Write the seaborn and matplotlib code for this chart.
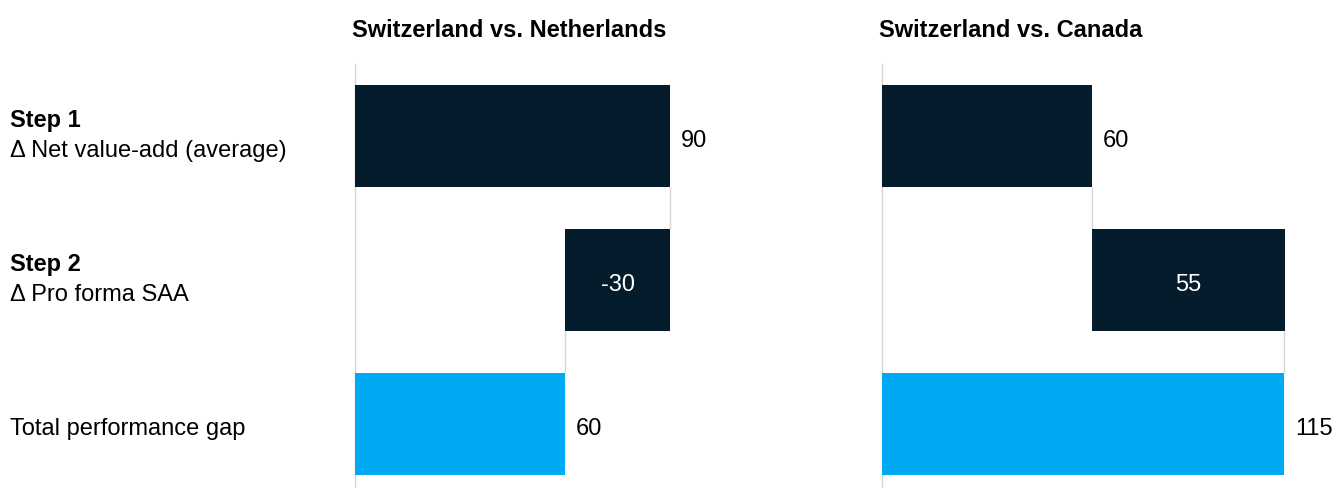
import matplotlib
matplotlib.use("Agg")
import matplotlib.pyplot as plt
import matplotlib.transforms as mtransforms
import pandas as pd
import seaborn as sns

# ---- data -------------------------------------------------------------
steps = ["Step 1", "Step 2", "Total"]
row_headers = ["Step 1", "Step 2", ""]
row_descriptions = ["Δ Net value-add (average)", "Δ Pro forma SAA", "Total performance gap"]
panel_titles = ["Switzerland vs. Netherlands", "Switzerland vs. Canada"]
netherlands_values = [90, -30, 60]
canada_values = [60, 55, 115]
label_inside = [False, True, False]

# ---- style ------------------------------------------------------------
NAVY = "#051c2c"
CYAN = "#00a9f4"
GRID = "#d6d6d6"
palette = {"Step 1": NAVY, "Step 2": NAVY, "Total": CYAN}

sns.set_theme(style="white")
plt.rcParams["font.family"] = ["Liberation Sans", "DejaVu Sans"]
FS = 17

W, H = 1336, 488
fig = plt.figure(figsize=(W / 100, H / 100), dpi=100)

PX_PER_UNIT = 3.5
XMAX = 125
BAR_H = 0.708
ax_w = XMAX * PX_PER_UNIT
top_px = 64

axes = []
for left_px, values, title in zip([355, 882], [netherlands_values, canada_values], panel_titles):
    ax = fig.add_axes([left_px / W, 0, ax_w / W, (H - top_px) / H])
    df = pd.DataFrame({"step": steps, "value": values})
    sns.barplot(data=df, x="value", y="step", hue="step", palette=palette,
                orient="h", width=BAR_H, legend=False, saturation=1,
                linewidth=0, ax=ax)

    # waterfall: each step starts where the previous one ended, total from zero
    starts = [0, values[0], 0]
    for patch, s in zip(ax.patches, starts):
        patch.set_x(s)
        patch.set_zorder(2)

    ax.set_xlim(0, XMAX)
    ax.set_ylim(2.444, -0.5)
    ax.set(xlabel="", ylabel="", xticks=[], yticks=[])
    for sp in ax.spines.values():
        sp.set_visible(False)

    ax.axvline(0, color=GRID, lw=1.0, zorder=1, clip_on=False)

    # connectors between consecutive bars
    ends = [s + v for s, v in zip(starts, values)]
    ax.vlines(ends[0], 0 + BAR_H / 2, 1 - BAR_H / 2, color=GRID, lw=1.0, zorder=1)
    ax.vlines(ends[1], 1 + BAR_H / 2, 2 - BAR_H / 2, color=GRID, lw=1.0, zorder=1)

    # value labels
    for i, (s, v, inside) in enumerate(zip(starts, values, label_inside)):
        if inside:
            ax.annotate(f"{v}", xy=(s + v / 2, i), xytext=(0, -7.9),
                        textcoords="offset points", ha="center", va="baseline",
                        color="white", fontsize=FS, zorder=3)
        else:
            ax.annotate(f"{v}", xy=(max(s, s + v), i), xytext=(7.5, -7.9),
                        textcoords="offset points", ha="left", va="baseline",
                        color="black", fontsize=FS, annotation_clip=False)

    fig.text((left_px - 3) / W, 1 - 36.7 / H, title, ha="left", va="baseline",
             fontsize=FS, fontweight="bold", color="black")
    axes.append(ax)

# row labels on the left
trans = mtransforms.blended_transform_factory(fig.transFigure, axes[0].transData)
for i, (head, desc) in enumerate(zip(row_headers, row_descriptions)):
    if head:
        axes[0].annotate(head, xy=(10 / W, i), xycoords=trans, xytext=(0, 6.7),
                         textcoords="offset points", ha="left", va="baseline",
                         fontsize=FS, fontweight="bold", color="black",
                         annotation_clip=False)
        axes[0].annotate(desc, xy=(10 / W, i), xycoords=trans, xytext=(0, -14.9),
                         textcoords="offset points", ha="left", va="baseline",
                         fontsize=FS, color="black", annotation_clip=False)
    else:
        axes[0].annotate(desc, xy=(10 / W, i), xycoords=trans, xytext=(0, -7.9),
                         textcoords="offset points", ha="left", va="baseline",
                         fontsize=FS, color="black", annotation_clip=False)

fig.savefig("out.png", dpi=100)
